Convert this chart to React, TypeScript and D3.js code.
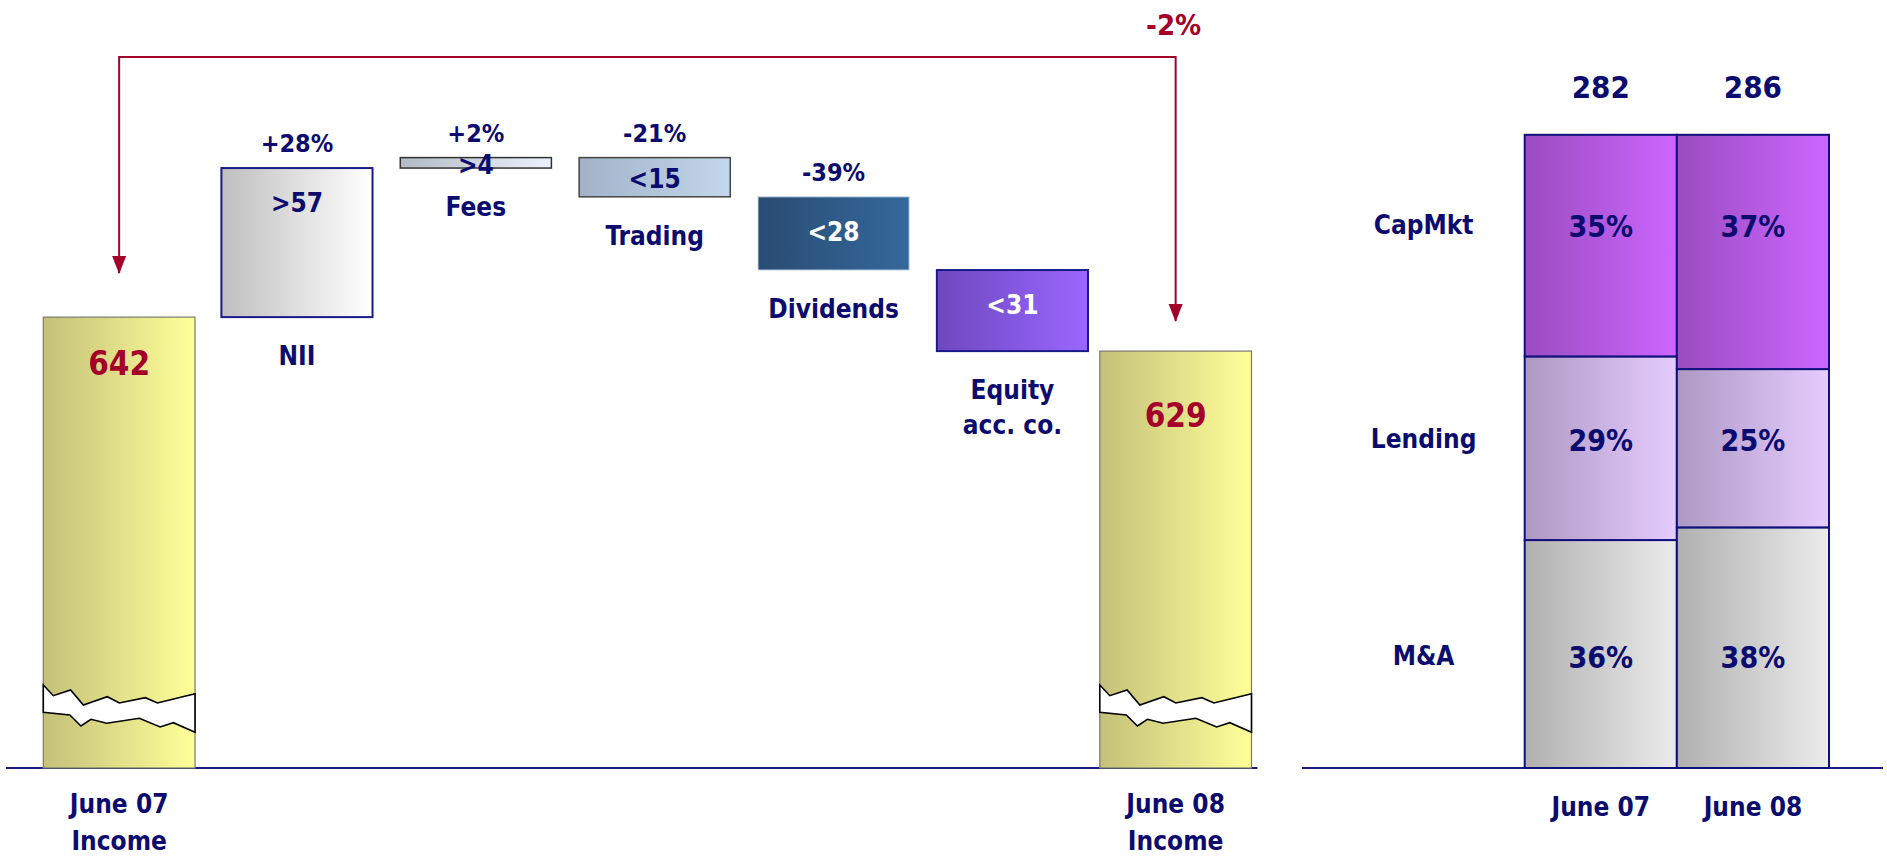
import React from "react";
import * as d3 from "d3";

// ---------- DATA ----------
const startLabel = ["June 07", "Income"];
const endLabel = ["June 08", "Income"];
const startTotal = 642;
const endTotal = 629;
const totalChange = "-2%";

const stepNames = [["NII"], ["Fees"], ["Trading"], ["Dividends"], ["Equity", "acc. co."]];
const stepDeltas = [57, 4, -15, -28, -31];
const stepValueLabels = [">57", ">4", "<15", "<28", "<31"];
const stepChangeLabels = ["+28%", "+2%", "-21%", "-39%", ""];

const mixPeriods = ["June 07", "June 08"];
const mixTotals = [282, 286];
const mixSegments = ["M&A", "Lending", "CapMkt"];
const maShare = [36, 38];
const lendingShare = [29, 25];
const capMktShare = [35, 37];

// ---------- STYLE ----------
const NAVY = "#0c0c6e";
const RED = "#a3002a";
const FONT = "'DejaVu Sans Condensed', 'DejaVu Sans', sans-serif";

const stepGrad = [
  { id: "gNII", from: "#bfbfbf", to: "#ffffff", stroke: "#1a1a8a", sw: 2, text: NAVY },
  { id: "gFees", from: "#b2bac4", to: "#ecf2fc", stroke: "#333333", sw: 1.5, text: NAVY },
  { id: "gTrad", from: "#a2b3c8", to: "#c2d6ec", stroke: "#444444", sw: 1.5, text: NAVY },
  { id: "gDiv", from: "#2a4c72", to: "#34689c", stroke: "#c8d4e4", sw: 1, text: "#ffffff" },
  { id: "gEq", from: "#6e48be", to: "#9a66ff", stroke: "#1a1a8a", sw: 2, text: "#ffffff" },
];
const segGrad = [
  { id: "sMA", from: "#b0b0b0", to: "#ebebeb" },
  { id: "sLend", from: "#ad98c2", to: "#e6ccff" },
  { id: "sCap", from: "#9a4cc0", to: "#cc66ff" },
];

export default function App() {
  const W = 1887;
  const H = 857;
  const baseY = 768;

  // waterfall scales
  const xt = d3.scaleBand<string>().domain(["start", "end"]).range([43.3, 1251.5]).paddingInner(0.8564).paddingOuter(0);
  const stepKeys = stepNames.map((_, i) => "s" + i);
  const xs = d3.scaleBand<string>().domain(stepKeys).range([221.4, 1088]).paddingInner(0.155).paddingOuter(0);
  const bw = xt.bandwidth();
  const sbw = xs.bandwidth();
  const y = d3.scaleLinear().domain([629, 703]).range([351.1, 157.6]);

  let cum = startTotal;
  const steps = stepDeltas.map((d, i) => {
    const a = cum;
    const b = cum + d;
    cum = b;
    const top = y(Math.max(a, b));
    const bot = y(Math.min(a, b));
    return { i, key: "s" + i, top, bot };
  });

  // break zigzag (relative shape)
  const brkTop = [[0, -83], [0.066, -72.3], [0.18, -78], [0.264, -63], [0.422, -71.3], [0.501, -65], [0.673, -70.3], [0.752, -65], [1, -74.3]];
  const brkBot = [[1, -35.7], [0.857, -45.3], [0.77, -41], [0.633, -49.7], [0.418, -44.7], [0.314, -48.7], [0.248, -42], [0.175, -53], [0, -55.7]];
  const breakPath = (x0: number) => {
    const pts = [...brkTop, ...brkBot].map(([fx, dy]) => [x0 + fx * bw, baseY + dy]);
    return d3.line()(pts as [number, number][]) + "Z";
  };

  const totalBar = (key: string, v: number, label: string[]) => {
    const x0 = xt(key)!;
    const cx = x0 + bw / 2;
    const top = y(v);
    return (
      <g key={key}>
        <rect x={x0} y={top} width={bw} height={baseY - top} fill="url(#gYel)" stroke="#7a7a6a" strokeWidth={1.2} />
        <path d={breakPath(x0)} fill="#ffffff" stroke="#000000" strokeWidth={1.6} />
        <text x={cx} y={key === "start" ? top + 58 : top + 76} textAnchor="middle" fill={RED} fontSize={33} fontWeight="bold">{v}</text>
        {label.map((t, j) => (
          <text key={j} x={cx} y={813 + j * 37} textAnchor="middle" fill={NAVY} fontSize={26} fontWeight="bold">{t}</text>
        ))}
      </g>
    );
  };

  // right chart scales
  const xm = d3.scaleBand<string>().domain(mixPeriods).range([1524.7, 1829]).padding(0);
  const ym = d3.scaleLinear().domain([0, 100]).range([baseY, 134.8]);
  const shares = [maShare, lendingShare, capMktShare];
  const rowY = [668, 451, 237];

  const x1 = xt("start")! + bw / 2;
  const x2 = xt("end")! + bw / 2;
  const arrowTop = 57;
  const tip1 = y(startTotal) - 43;
  const tip2 = y(endTotal) - 29;

  return (
    <svg width={W} height={H} style={{ display: "block", position: "absolute", left: 0, top: 0 }} fontFamily={FONT}>
      <defs>
        <linearGradient id="gYel" x1="0" x2="1" y1="0" y2="0">
          <stop offset="0" stopColor="#c4c079" />
          <stop offset="1" stopColor="#ffff99" />
        </linearGradient>
        {[...stepGrad, ...segGrad].map((g) => (
          <linearGradient key={g.id} id={g.id} x1="0" x2="1" y1="0" y2="0">
            <stop offset="0" stopColor={g.from} />
            <stop offset="1" stopColor={g.to} />
          </linearGradient>
        ))}
      </defs>

      {/* baselines */}
      <line x1={6} x2={1257.5} y1={baseY} y2={baseY} stroke="#1a1a80" strokeWidth={2} />
      <line x1={1302} x2={1883} y1={baseY} y2={baseY} stroke="#1a1a80" strokeWidth={2} />

      {/* waterfall totals */}
      {totalBar("start", startTotal, startLabel)}
      {totalBar("end", endTotal, endLabel)}

      {/* steps */}
      {steps.map((s) => {
        const g = stepGrad[s.i];
        const x0 = xs(s.key)!;
        const cx = x0 + sbw / 2;
        const ctr = (s.top + s.bot) / 2;
        const valY = Math.min(s.top + 44, ctr + 11);
        return (
          <g key={s.key}>
            <rect x={x0} y={s.top} width={sbw} height={s.bot - s.top} fill={`url(#${g.id})`} stroke={g.stroke} strokeWidth={g.sw} />
            <text x={cx} y={valY} textAnchor="middle" fill={g.text} fontSize={26} fontWeight="bold">{stepValueLabels[s.i]}</text>
            {stepChangeLabels[s.i] && (
              <text x={cx} y={s.top - 16} textAnchor="middle" fill={NAVY} fontSize={25} fontWeight="bold">{stepChangeLabels[s.i]}</text>
            )}
            {stepNames[s.i].map((t, j) => (
              <text key={j} x={cx} y={s.bot + 48 + j * 35} textAnchor="middle" fill={NAVY} fontSize={26} fontWeight="bold">{t}</text>
            ))}
          </g>
        );
      })}

      {/* change arrow */}
      <path d={`M${x1},${tip1 - 1} L${x1},${arrowTop} L${x2},${arrowTop} L${x2},${tip2 - 1}`} fill="none" stroke={RED} strokeWidth={2} />
      <path d={`M${x1 - 7},${tip1 - 18} L${x1 + 7},${tip1 - 18} L${x1},${tip1} Z`} fill={RED} />
      <path d={`M${x2 - 7},${tip2 - 18} L${x2 + 7},${tip2 - 18} L${x2},${tip2} Z`} fill={RED} />
      <text x={x2 - 2} y={35} textAnchor="middle" fill={RED} fontSize={29} fontWeight="bold">{totalChange}</text>

      {/* business mix */}
      {mixPeriods.map((p, pi) => {
        const x0 = xm(p)!;
        const cx = x0 + xm.bandwidth() / 2;
        let acc = 0;
        return (
          <g key={p}>
            {shares.map((arr, si) => {
              const lo = acc;
              acc += arr[pi];
              const yTop = ym(acc);
              const yBot = ym(lo);
              return (
                <g key={si}>
                  <rect x={x0} y={yTop} width={xm.bandwidth()} height={yBot - yTop} fill={`url(#${segGrad[si].id})`} stroke="#10107a" strokeWidth={2} />
                  <text x={cx} y={rowY[si]} textAnchor="middle" fill={NAVY} fontSize={30} fontWeight="bold">{arr[pi]}%</text>
                </g>
              );
            })}
            <text x={cx} y={98} textAnchor="middle" fill={NAVY} fontSize={31} fontWeight="bold">{mixTotals[pi]}</text>
            <text x={cx} y={816} textAnchor="middle" fill={NAVY} fontSize={26} fontWeight="bold">{p}</text>
          </g>
        );
      })}
      {mixSegments.map((s, si) => (
        <text key={s} x={1423.6} y={rowY[si] - 3} textAnchor="middle" fill={NAVY} fontSize={26} fontWeight="bold">{s}</text>
      ))}
    </svg>
  );
}
